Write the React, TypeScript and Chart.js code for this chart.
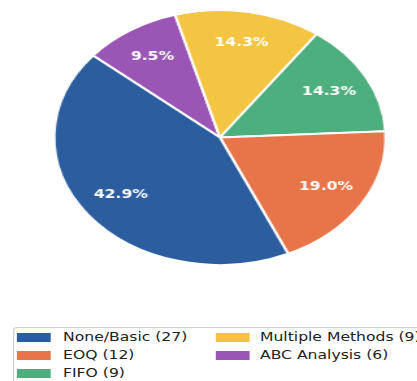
import React, { useEffect, useRef } from "react";
import { Chart, registerables } from "chart.js";

Chart.register(...registerables);

const categories = ["None/Basic", "EOQ", "FIFO", "Multiple Methods", "ABC Analysis"];
const counts = [27, 12, 9, 9, 6];
const colors = ["#2C5D9F", "#E8744A", "#4DAE7E", "#F3C543", "#9A56B4"];

const SX = 1.3; // horizontal stretch of the reference image
const W = 321;
const H = 290;

const pctLabels = {
  id: "pctLabels",
  afterDatasetsDraw(chart: any) {
    const ctx = chart.ctx;
    const meta = chart.getDatasetMeta(0);
    const data = chart.data.datasets[0].data as number[];
    const total = data.reduce((a, b) => a + b, 0);
    ctx.save();
    ctx.fillStyle = "#ffffff";
    ctx.font = "bold 12px 'DejaVu Sans'";
    ctx.textAlign = "center";
    ctx.textBaseline = "middle";
    meta.data.forEach((arc: any, i: number) => {
      const p = arc.getProps(["x", "y", "startAngle", "endAngle", "outerRadius"], true);
      const mid = (p.startAngle + p.endAngle) / 2;
      const r = p.outerRadius * 0.75;
      ctx.fillText(
        ((data[i] / total) * 100).toFixed(1) + "%",
        p.x + r * Math.cos(mid),
        p.y + r * Math.sin(mid)
      );
    });
    ctx.restore();
  },
};

export default function App() {
  const ref = useRef<HTMLCanvasElement | null>(null);

  useEffect(() => {
    if (!ref.current) return;
    const labs = [...categories].reverse();
    const vals = [...counts].reverse();
    const cols = [...colors].reverse();
    const chart = new Chart(ref.current, {
      type: "pie",
      data: {
        labels: labs,
        datasets: [
          {
            data: vals,
            backgroundColor: cols,
            borderColor: "#ffffff",
            borderWidth: 2,
            hoverOffset: 0,
            offset: 0,
          } as any,
        ],
      },
      options: {
        responsive: false,
        animation: false,
        rotation: -50,
        layout: { padding: { left: 40.7, top: 9, right: 23.3, bottom: 24 } },
        plugins: {
          legend: { display: false },
          tooltip: { enabled: false },
        },
      } as any,
      plugins: [pctLabels],
    });
    return () => chart.destroy();
  }, []);

  const rowY = [337, 355, 373];
  const legendItems = categories.map((c, i) => ({
    label: `${c} (${counts[i]})`,
    color: colors[i],
    col: i < 3 ? 0 : 1,
    row: i < 3 ? i : i - 3,
  }));

  return (
    <div
      style={{
        position: "fixed",
        left: 0,
        top: 0,
        width: W + "px",
        height: "381px",
        overflow: "hidden",
        transform: `scaleX(${SX})`,
        transformOrigin: "0 0",
        background: "#ffffff",
        fontFamily: "'DejaVu Sans', sans-serif",
      }}
    >
      <canvas ref={ref} width={W} height={H} style={{ position: "absolute", left: 0, top: 0 }} />
      <div
        style={{
          position: "absolute",
          left: "9.5px",
          top: "327px",
          width: "400px",
          height: "100px",
          border: "1px solid #d0d0d0",
          borderRadius: "3px",
          boxSizing: "border-box",
        }}
      />
      {legendItems.map((it, i) => (
        <React.Fragment key={i}>
          <div
            style={{
              position: "absolute",
              left: (it.col === 0 ? 13.1 : 166) + "px",
              top: rowY[it.row] - 4.5 + "px",
              width: "26px",
              height: "9px",
              background: it.color,
            }}
          />
          <div
            style={{
              position: "absolute",
              left: (it.col === 0 ? 48.5 : 200) + "px",
              top: rowY[it.row] - 8 + "px",
              height: "16px",
              lineHeight: "16px",
              fontSize: "12px",
              color: "#222222",
              whiteSpace: "nowrap",
            }}
          >
            {it.label}
          </div>
        </React.Fragment>
      ))}
    </div>
  );
}
